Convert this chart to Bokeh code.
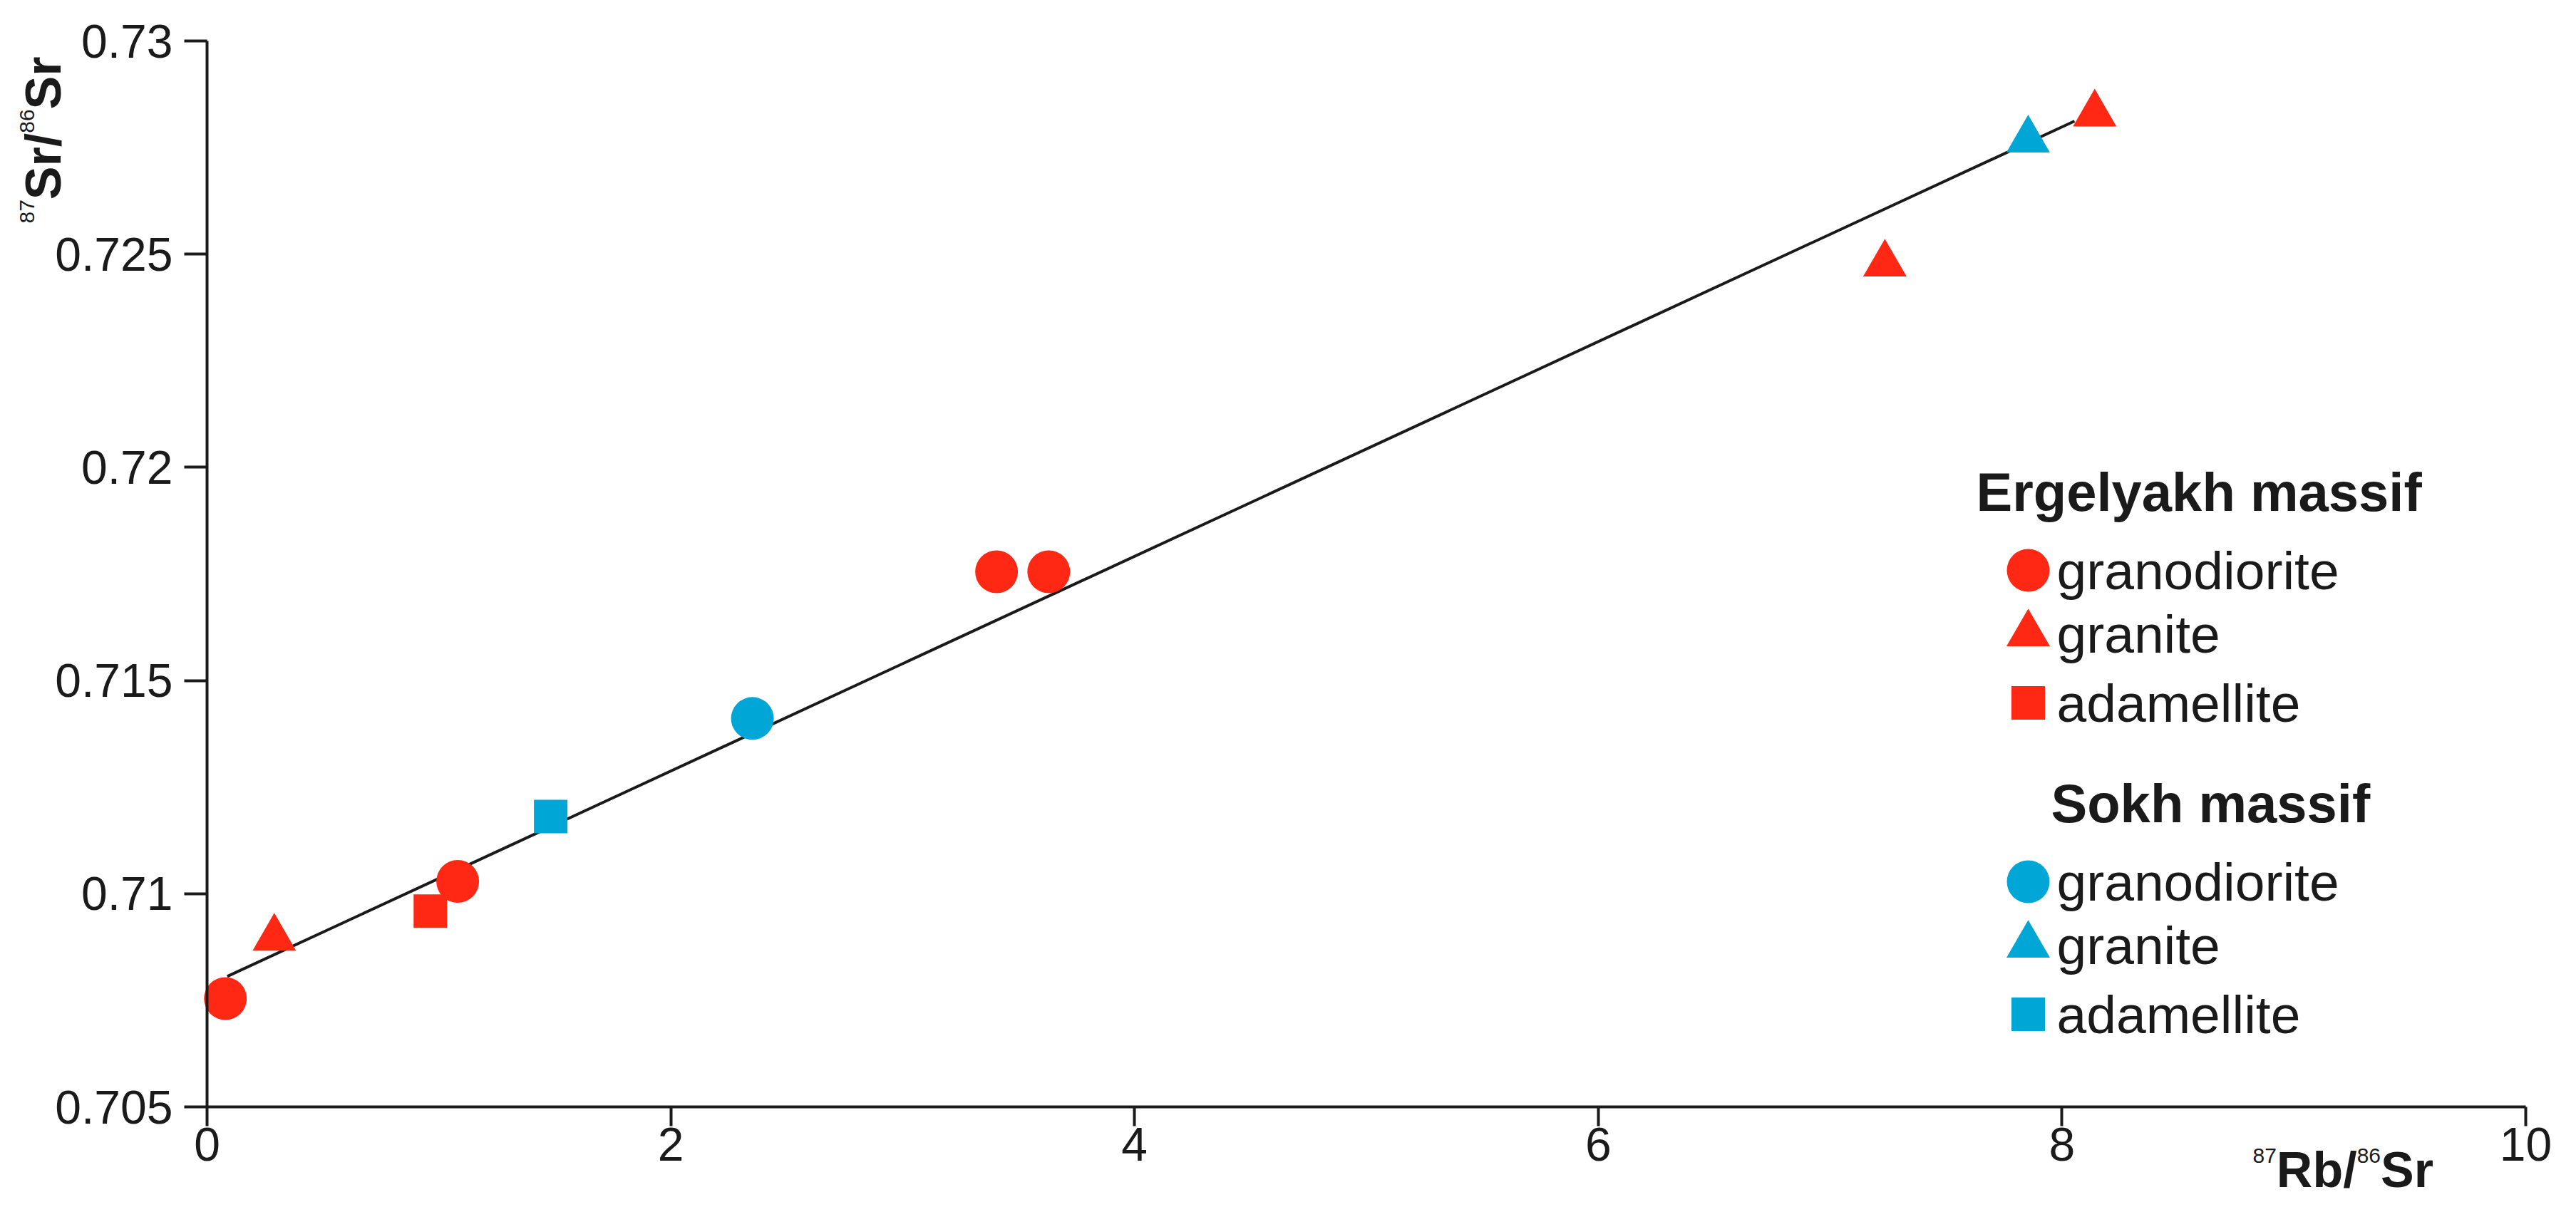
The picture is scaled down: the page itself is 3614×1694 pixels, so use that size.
import math
from bokeh.plotting import figure
from bokeh.models import Range1d, FixedTicker, Label
from bokeh.embed import file_html
from bokeh.resources import INLINE

# ---------------- data ----------------
erg_granodiorite_x = [0.079, 1.081, 3.405, 3.630]
erg_granodiorite_y = [0.70754, 0.71029, 0.71755, 0.71755]
erg_granite_x = [0.290, 7.236, 8.141]
erg_granite_y = [0.70896, 0.72477, 0.72829]
erg_adamellite_x = [0.963]
erg_adamellite_y = [0.70959]
sokh_granodiorite_x = [2.352]
sokh_granodiorite_y = [0.71411]
sokh_granite_x = [7.854]
sokh_granite_y = [0.72768]
sokh_adamellite_x = [1.482]
sokh_adamellite_y = [0.71181]
isochron_x = [0.087, 8.054]
isochron_y = [0.70806, 0.72812]

x_ticks = [0, 2, 4, 6, 8, 10]
y_ticks = [0.705, 0.71, 0.715, 0.72, 0.725, 0.73]
y_tick_labels = ["0.705", "0.71", "0.715", "0.72", "0.725", "0.73"]

legend_groups = ["Ergelyakh massif", "Sokh massif"]
legend_rocks = ["granodiorite", "granite", "adamellite"]

# ---------------- layout / style ----------------
RED = "#FF2814"
BLUE = "#00A6D6"
INK = "#1a1a1a"
FONT = "Liberation Sans"

W, H = 3614, 1694
XMIN, XMAX = 0, 10
YMIN, YMAX = 0.705, 0.73
# canvas pixels where the axis box corners sit
AX_L, AX_R, AX_T, AX_B = 290, 3543, 57, 1553
SX = (AX_R - AX_L) / (XMAX - XMIN)
SY = (AX_B - AX_T) / (YMAX - YMIN)
X_START = XMIN - AX_L / SX
X_END = XMAX + (W - AX_R) / SX
Y_START = YMIN - (H - AX_B) / SY
Y_END = YMAX + AX_T / SY


def fx(px):
    # canvas pixel -> data x
    return X_START + px / SX


def fy(py):
    return Y_END - py / SY


p = figure(width=W, height=H, x_range=Range1d(X_START, X_END), y_range=Range1d(Y_START, Y_END),
           output_backend="svg", toolbar_location=None,
           min_border_left=0, min_border_right=0, min_border_top=0, min_border_bottom=0,
           background_fill_color="white", border_fill_color="white")
p.outline_line_color = None
p.grid.visible = False

xa = p.xaxis[0]
ya = p.yaxis[0]
xa.fixed_location = YMIN
xa.bounds = (XMIN, XMAX)
ya.fixed_location = XMIN
ya.bounds = (YMIN, YMAX)

for ax in (xa, ya):
    ax.axis_line_width = 4
    ax.axis_line_color = INK
    ax.major_tick_line_width = 4
    ax.major_tick_line_color = INK
    ax.major_tick_in = 0
    ax.minor_tick_in = 0
    ax.minor_tick_out = 0
    ax.major_label_text_font = FONT
    ax.major_label_text_font_size = "66px"
    ax.major_label_text_color = INK

xa.ticker = FixedTicker(ticks=x_ticks)
ya.ticker = FixedTicker(ticks=y_ticks)
ya.major_label_overrides = dict(zip(y_ticks, y_tick_labels))
xa.major_tick_out = 27
ya.major_tick_out = 32
xa.major_label_standoff = 2
ya.major_label_standoff = 16

# isochron
p.line(isochron_x, isochron_y, line_width=4, line_color=INK)

SIZES = {"circle": 60, "triangle": 61, "square": 47}


def pts(x, y, marker, color):
    p.scatter(x, y, marker=marker, size=SIZES[marker], fill_color=color, line_color=None)


pts(erg_granodiorite_x, erg_granodiorite_y, "circle", RED)
pts(erg_granite_x, erg_granite_y, "triangle", RED)
pts(erg_adamellite_x, erg_adamellite_y, "square", RED)
pts(sokh_granodiorite_x, sokh_granodiorite_y, "circle", BLUE)
pts(sokh_granite_x, sokh_granite_y, "triangle", BLUE)
pts(sokh_adamellite_x, sokh_adamellite_y, "square", BLUE)

# ---------------- legend (manual) ----------------
LEG_MARK_X = 2845
LEG_TEXT_X = 2885
title_x = [2772, 2877]
title_rows = [690, 1127]
item_rows = [[800, 889, 986], [1237, 1326, 1423]]
colors = [RED, BLUE]
markers = ["circle", "triangle", "square"]

for g in range(2):
    p.add_layout(Label(x=fx(title_x[g]), y=fy(title_rows[g]), text=legend_groups[g],
                       text_font=FONT, text_font_style="bold", text_font_size="76px",
                       text_color=INK, text_align="left", text_baseline="middle"))
    for k in range(3):
        ry = item_rows[g][k]
        p.scatter([fx(LEG_MARK_X)], [fy(ry)], marker=markers[k], size=SIZES[markers[k]],
                  fill_color=colors[g], line_color=None)
        p.add_layout(Label(x=fx(LEG_TEXT_X), y=fy(ry), text=legend_rocks[k],
                           text_font=FONT, text_font_size="75px", text_color=INK,
                           text_align="left", text_baseline="middle"))

# ---------------- axis titles (manual, with superscripts) ----------------
BIG, SUP = 70, 30
MID = 0.35   # em offset from baseline to the "middle" anchor
W_BOLD = {"S": 0.667, "r": 0.389, "/": 0.278, "R": 0.722, "b": 0.611}
W_DIG = 0.556


def bold_w(s):
    return sum(W_BOLD[c] for c in s) * BIG


def add_piece(xp, yp, text, bold, angle=0.0):
    p.add_layout(Label(x=fx(xp), y=fy(yp), text=text, angle=angle,
                       text_font=FONT, text_font_style="bold" if bold else "normal",
                       text_font_size=f"{BIG if bold else SUP}px", text_color=INK,
                       text_align="left", text_baseline="middle"))


# x title: 87Rb/86Sr  (baselines: main 1666, superscript 1632)
xs = 3160
y_main = 1666 - MID * BIG
y_sup = 1632 - MID * SUP
cur = xs
add_piece(cur, y_sup, "87", False); cur += 2 * W_DIG * SUP
add_piece(cur, y_main, "Rb/", True); cur += bold_w("Rb/")
add_piece(cur, y_sup, "86", False); cur += 2 * W_DIG * SUP
add_piece(cur, y_main, "Sr", True)

# y title: 87Sr/86Sr rotated (baselines: main x=85, superscript x=48)
ang = math.pi / 2
x_main = 85 - MID * BIG
x_sup = 48 - MID * SUP
cur = 313
add_piece(x_sup, cur, "87", False, ang); cur -= 2 * W_DIG * SUP
add_piece(x_main, cur, "Sr/", True, ang); cur -= bold_w("Sr/")
add_piece(x_sup, cur, "86", False, ang); cur -= 2 * W_DIG * SUP
add_piece(x_main, cur, "Sr", True, ang)

open("out.html", "w").write(file_html(p, INLINE))
